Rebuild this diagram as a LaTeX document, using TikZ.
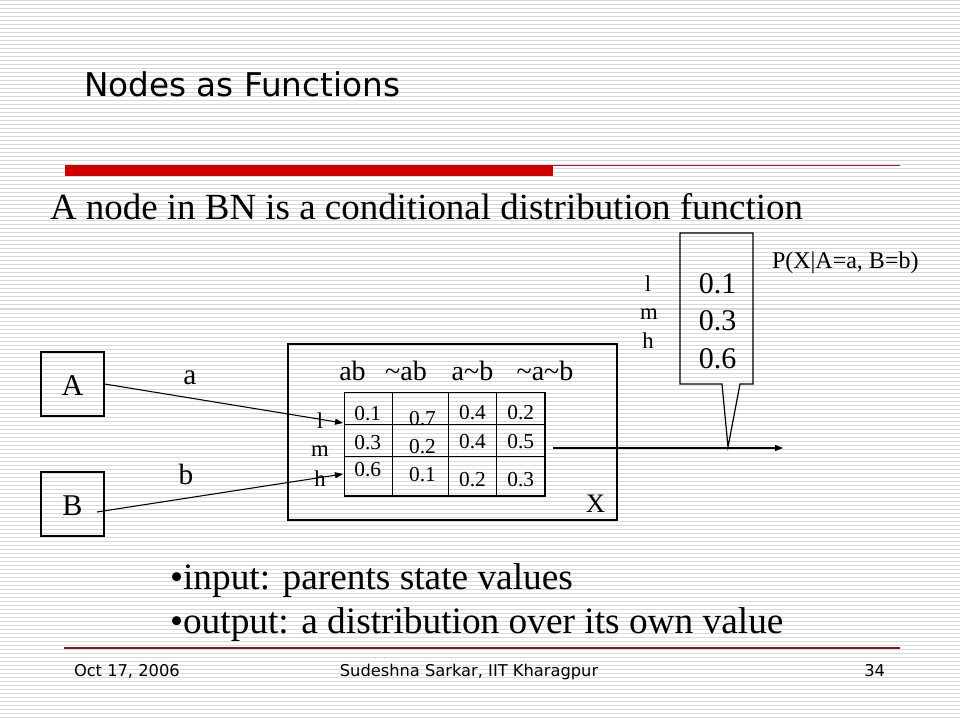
\documentclass[tikz,border=0pt]{standalone}
\usepackage{fontspec}
\setmainfont{Liberation Serif}
\newfontfamily\tah{DejaVu Sans}
\usetikzlibrary{arrows.meta}
\definecolor{stripegray}{RGB}{216,216,216}
\definecolor{barred}{RGB}{204,0,0}
\definecolor{thinred}{RGB}{176,24,36}
\definecolor{maroonline}{RGB}{122,24,40}
\tikzset{
  stripe/.style={stripegray, line width=0.75pt},
  txt/.style={inner sep=0pt, outer sep=0pt},
  boxnode/.style={draw=black, line width=0.9pt, inner sep=0pt},
  arr/.style={draw=black, line width=0.8pt, -{Triangle[length=6pt,width=4.5pt]}},
  cell/.style={txt, anchor=base, font=\fontsize{16}{18}\selectfont},
  rowlab/.style={txt, anchor=base, font=\fontsize{17}{19}\selectfont},
  big/.style={txt, anchor=base west, font=\fontsize{28}{34}\selectfont},
  foot/.style={txt, anchor=base, font=\tah\fontsize{12.2}{14}\selectfont}
}
\begin{document}
\begin{tikzpicture}[x=0.75pt,y=-0.75pt]
\useasboundingbox (0,0) rectangle (960,720);
\fill[white] (0,0) rectangle (960,720);
\foreach \k in {0,...,179} \draw[stripe] (0,4*\k+1) -- (960,4*\k+1);

% title and rules
\node[txt, anchor=base west, font=\tah\fontsize{24.5}{29}\selectfont] (title) at (84,97) {Nodes as Functions};
\fill[barred] (65,164.7) rectangle (553,176);
\draw[thinred, line width=1pt] (553,165.3) -- (900,165.3);
\draw[maroonline, line width=1pt] (64,648) -- (900,648);

% heading
\node[big, font=\fontsize{27.7}{34}\selectfont] (head) at (50,220) {A node in BN is a conditional distribution function};

% parent nodes
\node[boxnode, minimum width=47.25pt, minimum height=48pt] (A) at (72.5,384) {};
\node[txt, font=\fontsize{22.6}{26}\selectfont] (Alab) at (72.5,386) {A};
\node[boxnode, minimum width=47.25pt, minimum height=48pt] (B) at (72.5,504) {};
\node[txt, font=\fontsize{22.6}{26}\selectfont] (Blab) at (72.5,506) {B};
\node[txt, anchor=base, font=\fontsize{22}{26}\selectfont] (alab) at (190,384) {a};
\node[txt, anchor=base, font=\fontsize{22}{26}\selectfont] (blab) at (186,484) {b};

% node X
\node[boxnode, minimum width=246.75pt, minimum height=132pt] (X) at (452.5,432) {};
\node[txt, anchor=base, font=\fontsize{20}{24}\selectfont] (Xlab) at (595.5,512.7) {X};

% column headers
\node[txt, anchor=base, font=\fontsize{21}{24}\selectfont] (h1) at (352.5,380) {ab};
\node[txt, anchor=base, font=\fontsize{21}{24}\selectfont] (h2) at (406,380) {\char`\~ab};
\node[txt, anchor=base, font=\fontsize{21}{24}\selectfont] (h3) at (472.5,380) {a\char`\~b};
\node[txt, anchor=base, font=\fontsize{21}{24}\selectfont] (h4) at (545,380) {\char`\~a\char`\~b};

% table grid
\draw[black, line width=0.8pt] (344.3,392.3) rectangle (545,496);
\draw[black, line width=0.8pt] (392.7,392.3) -- (392.7,496);
\draw[black, line width=0.8pt] (448.7,392.3) -- (448.7,496);
\draw[black, line width=0.8pt] (496.7,392.3) -- (496.7,496);
\draw[black, line width=0.8pt] (344.3,424.3) -- (545,424.3);
\draw[black, line width=0.8pt] (344.3,456.7) -- (545,456.7);

% cell values
\node[cell] (c11) at (367.8,420) {0.1};
\node[cell] (c21) at (367.8,449.3) {0.3};
\node[cell] (c31) at (367.8,476.7) {0.6};
\node[cell] (c12) at (422.5,425) {0.7};
\node[cell] (c22) at (422.5,453) {0.2};
\node[cell] (c32) at (422.5,481.7) {0.1};
\node[cell] (c13) at (472.5,419.3) {0.4};
\node[cell] (c23) at (472.5,448.3) {0.4};
\node[cell] (c33) at (472.5,486.7) {0.2};
\node[cell] (c14) at (520.8,419.3) {0.2};
\node[cell] (c24) at (520.8,448.3) {0.5};
\node[cell] (c34) at (520.8,486.7) {0.3};

% row labels
\node[rowlab] (rl) at (320,428.3) {l};
\node[rowlab] (rm) at (320,456.7) {m};
\node[rowlab] (rh) at (320,486.7) {h};

% input arrows
\coordinate (la) at (343,423);
\coordinate (bstart) at (97,512);
\coordinate (lb) at (343,474);
\draw[arr] (A.east) -- (la);
\draw[arr] (bstart) -- (lb);

% output arrow
\coordinate (outs) at (553,448);
\coordinate (oute) at (783,448);
\draw[arr] (outs) -- (oute);

% callout
\draw[black, line width=0.9pt] (680,233) -- (753,233) -- (753,384) -- (740,384) -- (728,447) -- (722,384) -- (680,384) -- cycle;
\node[txt, anchor=base, font=\fontsize{22.5}{26}\selectfont] (o1) at (717.5,293.3) {0.1};
\node[txt, anchor=base, font=\fontsize{22.5}{26}\selectfont] (o2) at (717.5,330) {0.3};
\node[txt, anchor=base, font=\fontsize{22.5}{26}\selectfont] (o3) at (717.5,368.3) {0.6};
\node[rowlab] (ol) at (648,291.7) {l};
\node[rowlab] (om) at (649,320) {m};
\node[rowlab] (oh) at (648,348.3) {h};
\node[txt, anchor=base west, font=\fontsize{18}{21}\selectfont] (pxab) at (772,268.3) {P(X|A=a, B=b)};

% bullets
\node[big] (b1) at (170,589) {•input: parents state values};
\node[big] (b2) at (170,633) {•output: a distribution over its own value};

% footer
\node[foot, anchor=base west] (fdate) at (74,676) {Oct 17, 2006};
\node[foot] (fauth) at (469,676) {Sudeshna Sarkar, IIT Kharagpur};
\node[foot, anchor=base east] (fpage) at (885,676) {34};
\end{tikzpicture}
\end{document}
